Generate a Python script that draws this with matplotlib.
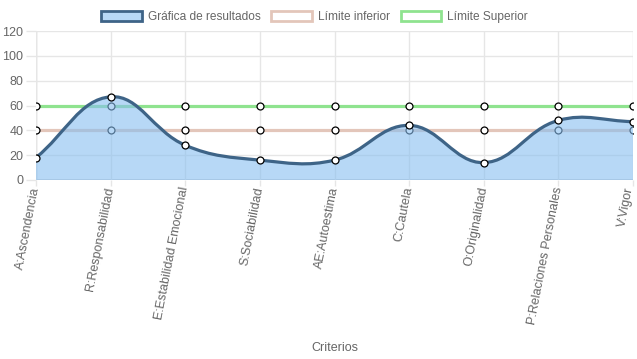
import numpy as np
import matplotlib.pyplot as plt
import matplotlib.transforms as mtransforms
from matplotlib.path import Path
from matplotlib.patches import PathPatch, Rectangle

plt.rcParams['font.family'] = ['Liberation Sans', 'DejaVu Sans']

criterios = ["A:Ascendencia", "R:Responsabilidad", "E:Estabilidad Emocional",
             "S:Sociabilidad", "AE:Autoestima", "C:Cautela", "O:Originalidad",
             "P:Relaciones Personales", "V:Vigor"]
resultados = [18, 67, 28, 16, 16, 44, 14, 48, 47]
limite_inferior = [40, 40, 40, 40, 40, 40, 40, 40, 40]
limite_superior = [60, 60, 60, 60, 60, 60, 60, 60, 60]
y_ticks = [0, 20, 40, 60, 80, 100, 120]

line_col = "#3e6487"
fill_col = (0.53, 0.745, 0.94, 0.6)
inf_col = "#e3c6ba"
sup_col = "#8fe38f"
grid_col = "#e6e6e6"
text_col = "#666666"

fig = plt.figure(figsize=(6.37, 3.59), dpi=100)
ax = fig.add_axes([36 / 637, 1 - 180 / 359, (633 - 36) / 637, (180 - 31) / 359])

n = len(criterios)
x = np.arange(n)

# chart.js style spline (tension 0.4), computed in pixel-ish units
sx, sy = 74.6, 1.24
px = x * sx
py = np.array(resultados) * sy
t = 0.4
verts = [(px[0], py[0])]
codes = [Path.MOVETO]
ctrl = []
for i in range(n):
    p0 = (px[max(i - 1, 0)], py[max(i - 1, 0)])
    p1 = (px[i], py[i])
    p2 = (px[min(i + 1, n - 1)], py[min(i + 1, n - 1)])
    d01 = np.hypot(p1[0] - p0[0], p1[1] - p0[1])
    d12 = np.hypot(p2[0] - p1[0], p2[1] - p1[1])
    s01 = d01 / (d01 + d12)
    s12 = d12 / (d01 + d12)
    fa, fb = t * s01, t * s12
    prev = (p1[0] - fa * (p2[0] - p0[0]), p1[1] - fa * (p2[1] - p0[1]))
    nxt = (p1[0] + fb * (p2[0] - p0[0]), p1[1] + fb * (p2[1] - p0[1]))
    ctrl.append((prev, nxt))
for i in range(n - 1):
    verts += [ctrl[i][1], ctrl[i + 1][0], (px[i + 1], py[i + 1])]
    codes += [Path.CURVE4] * 3
verts = [(vx / sx, vy / sy) for vx, vy in verts]

fill_verts = verts + [(x[-1], 0), (x[0], 0), verts[0]]
fill_codes = codes + [Path.LINETO, Path.LINETO, Path.CLOSEPOLY]

# limit lines (drawn under the fill)
ax.plot(x, limite_superior, color=sup_col, lw=2.3, zorder=2)
ax.plot(x, limite_inferior, color=inf_col, lw=2.3, zorder=2)
ax.plot(x, limite_superior, 'o', ms=5, mfc='white', mec='black', mew=0.9, zorder=2.5)
ax.plot(x, limite_inferior, 'o', ms=5, mfc='white', mec='black', mew=0.9, zorder=2.5)

ax.add_patch(PathPatch(Path(fill_verts, fill_codes), facecolor=fill_col, edgecolor='none', zorder=3))
ax.add_patch(PathPatch(Path(verts, codes), facecolor='none', edgecolor=line_col, lw=2.3, zorder=4))
ax.plot(x, resultados, 'o', ms=5, mfc='white', mec='black', mew=0.9, zorder=5)

ax.set_xlim(0, n - 1)
ax.set_ylim(0, 120)
ax.set_xticks(x)
ax.set_xticklabels([])
# rotated category labels drawn as text so the last one can be nudged inside
for i, lab in enumerate(criterios):
    dx = -3 if i == n - 1 else 0
    tr = ax.get_xaxis_transform() + mtransforms.ScaledTranslation(
        dx / 100, -7 / 100, fig.dpi_scale_trans)
    ax.text(x[i], 0, lab, transform=tr, rotation=79, ha='right', va='center',
            rotation_mode='anchor', fontsize=9, color=text_col, clip_on=False)
ax.set_yticks(y_ticks)
ax.set_yticklabels([str(v) for v in y_ticks], fontsize=9, color=text_col)
ax.tick_params(axis='y', length=7, color=grid_col, width=1, pad=2)
ax.tick_params(axis='x', length=4, color=grid_col, width=1, pad=1)
ax.grid(True, color=grid_col, lw=1, zorder=0)
for s in ax.spines.values():
    s.set_visible(False)
ax.axhline(0, color="#d0d0d0", lw=2, zorder=1)
ax.axvline(0, color="#d0d0d0", lw=1, zorder=1)
ax.set_xlabel("Criterios", fontsize=9, color=text_col)
ax.xaxis.set_label_coords(0.5, -(342 - 180) / 149)

handles = [
    Rectangle((0, 0), 1, 1, facecolor=fill_col, edgecolor=line_col, lw=2),
    Rectangle((0, 0), 1, 1, facecolor='white', edgecolor=inf_col, lw=2),
    Rectangle((0, 0), 1, 1, facecolor='white', edgecolor=sup_col, lw=2),
]
fig.legend(handles, ["Gráfica de resultados", "Límite inferior", "Límite Superior"],
           loc='center', bbox_to_anchor=(0.5 - 4 / 637, 1 - 17 / 359), ncol=3, frameon=False,
           fontsize=8.6, handlelength=3.4, handleheight=0.9, columnspacing=0.9,
           handletextpad=0.5, labelcolor=text_col)

fig.savefig("out.png", dpi=100)
